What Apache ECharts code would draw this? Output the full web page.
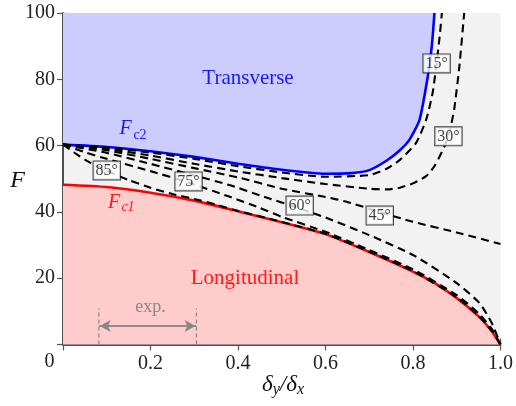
<!DOCTYPE html>
<html>
<head>
<meta charset="utf-8">
<script src="https://cdn.jsdelivr.net/npm/echarts@6/dist/echarts.min.js"></script>
<style>html,body{margin:0;padding:0;background:#fff;}#c{width:516px;height:406px;}</style>
</head>
<body>
<div id="c"></div>
<script>
// ---- data ----
const xTickValues = [0.2, 0.4, 0.6, 0.8, 1.0];
const xTickLabels = ['0.2', '0.4', '0.6', '0.8', '1.0'];
const yTickValues = [20, 40, 60, 80, 100];
const yTickLabels = ['20', '40', '60', '80', '100'];

const fc1 = [[0,48.2],[0.1,47.5],[0.2,45.8],[0.3,43.4],[0.4,40.2],[0.5,36.9],[0.6,33.3],[0.7,27.9],[0.8,22],[0.85,18.5],[0.9,14],[0.95,8.5],[0.98,4],[1,0]];
const fc2 = [[0,60.3],[0.1,59.6],[0.2,58.3],[0.3,56.6],[0.4,54.5],[0.5,52.7],[0.6,51.5],[0.66,51.7],[0.7,52.6],[0.74,55.5],[0.77,58.6],[0.792,61.8],[0.815,67.8],[0.834,81],[0.843,90],[0.849,100]];

const d15 = [[0,60.3],[0.1,59.4],[0.2,57.9],[0.3,56],[0.4,53.8],[0.5,51.9],[0.6,50.6],[0.7,51.1],[0.74,53],[0.77,55.7],[0.807,60.8],[0.83,67.8],[0.845,76],[0.854,85],[0.861,93],[0.866,100]];
const d30 = [[0,60.3],[0.1,59],[0.2,57],[0.3,54.5],[0.4,52.2],[0.5,50.2],[0.6,48.4],[0.7,47],[0.74,46.8],[0.77,47.3],[0.8,48.6],[0.83,50.8],[0.85,54],[0.872,59.8],[0.884,64.5],[0.894,70.8],[0.906,83.9],[0.917,100]];
const d45 = [[0,60.3],[0.1,58.6],[0.2,56],[0.3,53.2],[0.4,50.4],[0.5,47],[0.6,44.5],[0.65,43],[0.723,40],[0.8,37],[0.9,33.8],[1,30.3]];
const d60 = [[0,60.3],[0.1,57.8],[0.2,54.5],[0.3,51],[0.378,48.2],[0.45,45],[0.542,41],[0.6,38.3],[0.7,33],[0.8,27],[0.9,18.5],[0.952,12.5],[0.98,6.5],[1,0]];
const d75 = [[0,60.3],[0.05,58],[0.1,56],[0.2,52.3],[0.288,48.8],[0.378,44.7],[0.45,41.2],[0.5,38.5],[0.6,34],[0.7,28.5],[0.8,22.7],[0.9,14.9],[0.95,9.4],[0.98,4.7],[1,0]];
const d85 = [[0,60.3],[0.03,57.5],[0.06,55],[0.1,52.4],[0.15,49.6],[0.2,47.3],[0.25,45.4],[0.3,43.9],[0.35,42.2],[0.4,40.3],[0.5,37],[0.6,33.4],[0.7,28],[0.8,22.1],[0.9,14.2],[0.95,8.6],[0.98,4.1],[1,0]];

const angleLabels = ['85°', '75°', '60°', '45°', '30°', '15°'];
const angleLabelPos = [[0.1,52.5],[0.287,49.2],[0.541,41.9],[0.724,38.9],[0.881,62.8],[0.854,84.8]];

const expRange = [0.082, 0.305];
const expArrowF = 5.6;
const expTickTop = 10.9;

// ---- chart ----
const serif = 'Liberation Serif, Times New Roman, Times, serif';
const chart = echarts.init(document.getElementById('c'), null, {renderer: 'canvas'});

function dashed(data) {
  return {type: 'line', data: data, smooth: 0.2, symbol: 'none', z: 5,
    lineStyle: {color: '#000', width: 2.1, type: [8, 5]}};
}

const axisCommon = {
  type: 'value',
  axisLine: {show: true, lineStyle: {color: '#444', width: 1.5}},
  axisTick: {show: true, inside: true, length: 6, lineStyle: {color: '#555', width: 1.2}},
  splitLine: {show: false}
};

chart.setOption({
  animation: false,
  grid: {left: 63, top: 13, right: 12, bottom: 61.5, show: true, backgroundColor: '#f2f2f2', borderWidth: 0},
  xAxis: [
    Object.assign({}, axisCommon, {min: 0, max: 1, interval: 0.2, position: 'bottom',
      axisLabel: {show: true, margin: 9, fontFamily: serif, fontSize: 20, color: '#222',
        formatter: v => { const i = xTickValues.findIndex(t => Math.abs(t - v) < 1e-6); return i >= 0 ? xTickLabels[i] : ''; }}}),
    Object.assign({}, axisCommon, {min: 0, max: 1, interval: 0.2, position: 'top', axisLabel: {show: false}})
  ],
  yAxis: [
    Object.assign({}, axisCommon, {min: 0, max: 100, interval: 20, position: 'left',
      axisLabel: {show: true, margin: 8, fontFamily: serif, fontSize: 20, color: '#222',
        formatter: v => { const i = yTickValues.findIndex(t => Math.abs(t - v) < 1e-6); return i >= 0 ? yTickLabels[i] : ''; }}}),
    Object.assign({}, axisCommon, {min: 0, max: 100, interval: 20, position: 'right', axisLabel: {show: false}})
  ],
  series: [
    {type: 'line', data: fc2, smooth: 0.2, symbol: 'none', z: 3,
      lineStyle: {color: '#0000ff', width: 2.6},
      areaStyle: {color: '#ccccff', opacity: 1, origin: 'end'}},
    {type: 'line', data: fc1, smooth: 0.2, symbol: 'none', z: 3,
      lineStyle: {color: '#ff0000', width: 2.6},
      areaStyle: {color: '#ffcccc', opacity: 1, origin: 'start'}},
    dashed(d15), dashed(d30), dashed(d45), dashed(d60), dashed(d75), dashed(d85),
    {type: 'line', data: [[expRange[0], 0], [expRange[0], expTickTop]], symbol: 'none', z: 4,
      lineStyle: {color: '#888', width: 1.2, type: [4, 3]}},
    {type: 'line', data: [[expRange[1], 0], [expRange[1], expTickTop]], symbol: 'none', z: 4,
      lineStyle: {color: '#888', width: 1.2, type: [4, 3]}},
    {type: 'line', data: [[expRange[0], expArrowF], [expRange[1], expArrowF]], symbol: 'none', z: 4,
      lineStyle: {color: '#888', width: 1.6},
      markLine: {silent: true, symbol: ['arrow', 'arrow'], symbolSize: [9, 11], label: {show: false},
        lineStyle: {color: '#888', width: 1.6, type: 'solid'},
        data: [[{coord: [expRange[0] + 0.002, expArrowF]}, {coord: [expRange[1] - 0.002, expArrowF]}]]}},
    {type: 'scatter', z: 10, symbolSize: 1, itemStyle: {color: 'rgba(0,0,0,0)'},
      data: angleLabelPos.map((p, i) => ({value: p, name: angleLabels[i]})),
      label: {show: true, position: 'inside', formatter: p => p.name, fontFamily: serif, fontSize: 16, color: '#111',
        backgroundColor: '#fff', borderColor: '#111', borderWidth: 1, padding: [2, 2, 0, 2]}}
  ],
  graphic: [
    {type: 'text', z: 100, x: 49.5, y: 362, style: {text: '0', fontFamily: serif, fontSize: 20, fill: '#222', textAlign: 'center', textVerticalAlign: 'middle'}},
    {type: 'text', z: 100, x: 17.5, y: 181, style: {text: 'F', fontFamily: serif, fontStyle: 'italic', fontSize: 24, fill: '#111', textAlign: 'center', textVerticalAlign: 'middle'}},
    {type: 'text', z: 100, x: 283, y: 385, style: {
      rich: {i: {fontFamily: serif, fontStyle: 'italic', fontSize: 23, fill: '#111'},
             s: {fontFamily: serif, fontStyle: 'italic', fontSize: 16, fill: '#111', padding: [10, 0, 0, 0]}},
      text: '{i|δ}{s|y}{i|/δ}{s|x}', textAlign: 'center', textVerticalAlign: 'middle'}},
    {type: 'text', z: 100, x: 248, y: 78, style: {text: 'Transverse', fontFamily: serif, fontSize: 21, fill: '#1a1aff', textAlign: 'center', textVerticalAlign: 'middle'}},
    {type: 'text', z: 100, x: 245, y: 278, style: {text: 'Longitudinal', fontFamily: serif, fontSize: 21, fill: '#ff1a1a', textAlign: 'center', textVerticalAlign: 'middle'}},
    {type: 'text', z: 100, x: 125.5, y: 128.5, style: {text: 'F', fontFamily: serif, fontStyle: 'italic', fontSize: 20, fill: '#1a1aff', textAlign: 'center', textVerticalAlign: 'middle'}},
    {type: 'text', z: 100, x: 140, y: 135, style: {text: 'c2', fontFamily: serif, fontSize: 14, fill: '#1a1aff', textAlign: 'center', textVerticalAlign: 'middle'}},
    {type: 'text', z: 100, x: 114, y: 203, style: {text: 'F', fontFamily: serif, fontStyle: 'italic', fontSize: 20, fill: '#ff1a1a', textAlign: 'center', textVerticalAlign: 'middle'}},
    {type: 'text', z: 100, x: 128, y: 207, style: {text: 'c1', fontFamily: serif, fontStyle: 'italic', fontSize: 14, fill: '#ff1a1a', textAlign: 'center', textVerticalAlign: 'middle'}},
    {type: 'text', z: 100, x: 150.5, y: 307.5, style: {text: 'exp.', fontFamily: serif, fontSize: 18, fill: '#888', textAlign: 'center', textVerticalAlign: 'middle'}}
  ]
});
</script>
</body>
</html>
